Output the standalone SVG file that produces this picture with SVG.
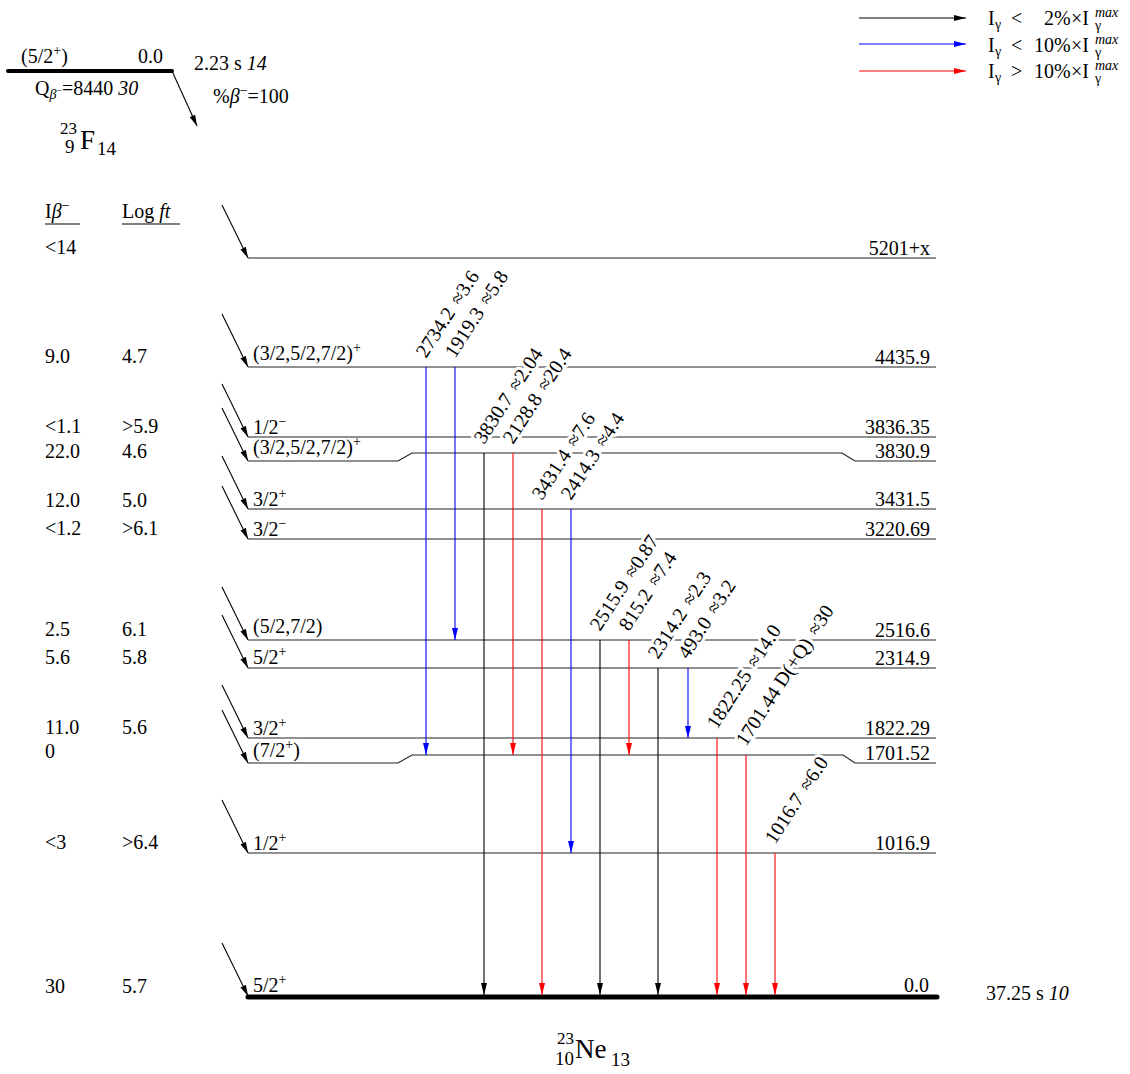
<svg xmlns="http://www.w3.org/2000/svg" width="1130" height="1074" viewBox="0 0 1130 1074">
<style>
text{font-family:"Liberation Serif","Times New Roman",serif;font-size:20px;fill:#000}
.e{text-anchor:end}
.i{font-style:italic}
.f10{font-size:10px}
.f14{font-size:14px}
.f17{font-size:17px}
.f19{font-size:19px}
.f27{font-size:27px}
.lv{fill:none;stroke:#222;stroke-width:1.2}
.gs{fill:none;stroke:#000;stroke-width:5;stroke-linecap:round}
.gl{paint-order:stroke;stroke:#fff;stroke-width:6;stroke-linejoin:round}
.tk{stroke:#000;stroke-width:1.1;fill:none}
.tb{stroke:#0000ff;stroke-width:1.1;fill:none}
.tr{stroke:#ff0000;stroke-width:1.1;fill:none}
.bt{stroke:#000;stroke-width:1.1;fill:none;marker-end:url(#mbeta)}
</style>
<defs>
<marker id="mk" markerUnits="userSpaceOnUse" markerWidth="12" markerHeight="6" refX="12" refY="3" orient="auto"><path d="M0,0 L12,3 L0,6 z" fill="#000"/></marker>
<marker id="mb" markerUnits="userSpaceOnUse" markerWidth="12" markerHeight="6" refX="12" refY="3" orient="auto"><path d="M0,0 L12,3 L0,6 z" fill="#0000ff"/></marker>
<marker id="mr" markerUnits="userSpaceOnUse" markerWidth="12" markerHeight="6" refX="12" refY="3" orient="auto"><path d="M0,0 L12,3 L0,6 z" fill="#ff0000"/></marker>
<marker id="mbeta" markerUnits="userSpaceOnUse" markerWidth="11" markerHeight="6" refX="11" refY="3" orient="auto"><path d="M0,0 L11,3 L0,6 z" fill="#000"/></marker>
</defs>

<g id="legend">
<line x1="859" y1="18" x2="966" y2="18" class="tk" marker-end="url(#mk)"/>
<line x1="859" y1="44" x2="966" y2="44" class="tb" marker-end="url(#mb)"/>
<line x1="859" y1="71" x2="966" y2="71" class="tr" marker-end="url(#mr)"/>
<text x="988" y="25">I</text><text x="995" y="29" class="f14">γ</text><text x="1011" y="25">&lt;</text><text x="1044" y="25">2%</text><text x="1071" y="25">×I</text><text x="1095" y="17" class="f14 i">max</text><text x="1095" y="30" class="f14">γ</text>
<text x="988" y="52">I</text><text x="995" y="56" class="f14">γ</text><text x="1011" y="52">&lt;</text><text x="1034" y="52">10%</text><text x="1071" y="52">×I</text><text x="1095" y="44" class="f14 i">max</text><text x="1095" y="57" class="f14">γ</text>
<text x="988" y="78">I</text><text x="995" y="82" class="f14">γ</text><text x="1011" y="78">&gt;</text><text x="1034" y="78">10%</text><text x="1071" y="78">×I</text><text x="1095" y="70" class="f14 i">max</text><text x="1095" y="83" class="f14">γ</text>
</g>

<g id="parent">
<line x1="8" y1="71" x2="172" y2="71" stroke="#000" stroke-width="4" stroke-linecap="round"/>
<text x="21" y="63">(5/2<tspan class="f14" dy="-8">+</tspan><tspan dy="8">)</tspan></text>
<text x="163" y="63" class="e">0.0</text>
<text x="35" y="95">Q<tspan class="f14 i" dy="4">β</tspan><tspan class="f10" dy="-5">−</tspan><tspan dy="1">=8440 </tspan><tspan class="i">30</tspan></text>
<text x="194" y="70">2.23 s <tspan class="i">14</tspan></text>
<text x="213" y="103">%<tspan class="i">β</tspan><tspan class="f14" dy="-8">−</tspan><tspan dy="8">=100</tspan></text>
<text x="60" y="134" class="f17">23</text>
<text x="65" y="153" class="f19">9</text>
<text x="80" y="149" class="f27">F</text>
<text x="97" y="155" class="f19">14</text>
</g>

<g id="headers">
<text x="45" y="218">I<tspan class="i">β</tspan><tspan class="f14" dy="-8">−</tspan></text>
<line x1="45" y1="224" x2="80" y2="224" stroke="#000" stroke-width="1"/>
<text x="122" y="218">Log <tspan class="i">ft</tspan></text>
<line x1="122" y1="224" x2="180" y2="224" stroke="#000" stroke-width="1"/>
</g>

<g id="level-5201">
<path class="lv" d="M248,258 H936"/>
<text x="930" y="255" class="e">5201+x</text>
<text x="45" y="254">&lt;14</text>
</g>
<g id="level-4435.9">
<path class="lv" d="M248,367 H936"/>
<text x="253" y="360">(3/2,5/2,7/2)<tspan class="f14" dy="-8">+</tspan></text>
<text x="930" y="364" class="e">4435.9</text>
<text x="45" y="363">9.0</text><text x="122" y="363">4.7</text>
</g>
<g id="level-3836.35">
<path class="lv" d="M248,437 H936"/>
<text x="253" y="434">1/2<tspan class="f14" dy="-8">−</tspan></text>
<text x="930" y="434" class="e">3836.35</text>
<text x="45" y="433">&lt;1.1</text><text x="122" y="433">&gt;5.9</text>
</g>
<g id="level-3830.9">
<path class="lv" d="M248,461 H398 L412,453 H842 L855,461 H936"/>
<text x="253" y="454">(3/2,5/2,7/2)<tspan class="f14" dy="-8">+</tspan></text>
<text x="930" y="458" class="e">3830.9</text>
<text x="45" y="458">22.0</text><text x="122" y="458">4.6</text>
</g>
<g id="level-3431.5">
<path class="lv" d="M248,509 H936"/>
<text x="253" y="506">3/2<tspan class="f14" dy="-8">+</tspan></text>
<text x="930" y="506" class="e">3431.5</text>
<text x="45" y="507">12.0</text><text x="122" y="507">5.0</text>
</g>
<g id="level-3220.69">
<path class="lv" d="M248,539 H936"/>
<text x="253" y="536">3/2<tspan class="f14" dy="-8">−</tspan></text>
<text x="930" y="536" class="e">3220.69</text>
<text x="45" y="535">&lt;1.2</text><text x="122" y="535">&gt;6.1</text>
</g>
<g id="level-2516.6">
<path class="lv" d="M248,640 H936"/>
<text x="253" y="633">(5/2,7/2)</text>
<text x="930" y="637" class="e">2516.6</text>
<text x="45" y="636">2.5</text><text x="122" y="636">6.1</text>
</g>
<g id="level-2314.9">
<path class="lv" d="M248,668 H936"/>
<text x="253" y="664">5/2<tspan class="f14" dy="-8">+</tspan></text>
<text x="930" y="665" class="e">2314.9</text>
<text x="45" y="664">5.6</text><text x="122" y="664">5.8</text>
</g>
<g id="level-1822.29">
<path class="lv" d="M248,738 H936"/>
<text x="253" y="735">3/2<tspan class="f14" dy="-8">+</tspan></text>
<text x="930" y="735" class="e">1822.29</text>
<text x="45" y="734">11.0</text><text x="122" y="734">5.6</text>
</g>
<g id="level-1701.52">
<path class="lv" d="M248,763 H398 L412,755 H843 L855,763 H936"/>
<text x="253" y="757">(7/2<tspan class="f14" dy="-8">+</tspan><tspan dy="8">)</tspan></text>
<text x="930" y="760" class="e">1701.52</text>
<text x="45" y="758">0</text>
</g>
<g id="level-1016.9">
<path class="lv" d="M248,853 H936"/>
<text x="253" y="850">1/2<tspan class="f14" dy="-8">+</tspan></text>
<text x="930" y="850" class="e">1016.9</text>
<text x="45" y="849">&lt;3</text><text x="122" y="849">&gt;6.4</text>
</g>
<g id="level-0">
<path class="gs" d="M248,997 H937"/>
<text x="253" y="992">5/2<tspan class="f14" dy="-8">+</tspan></text>
<text x="929" y="992" class="e">0.0</text>
<text x="45" y="993">30</text><text x="122" y="993">5.7</text>
<text x="986" y="1000">37.25 s <tspan class="i">10</tspan></text>
</g>

<g id="nucleus">
<text x="557" y="1044" class="f17">23</text>
<text x="555" y="1065" class="f19">10</text>
<text x="575" y="1058" class="f27">Ne</text>
<text x="611" y="1066" class="f19">13</text>
</g>

<g id="gamma-labels">
<text class="gl" transform="translate(426,359) rotate(-57)">2734.2 <tspan dx="3">≈3.6</tspan></text>
<text class="gl" transform="translate(455,359) rotate(-57)">1919.3 <tspan dx="3">≈5.8</tspan></text>
<text class="gl" transform="translate(484,445) rotate(-57)">3830.7 <tspan dx="3">≈2.04</tspan></text>
<text class="gl" transform="translate(513,445) rotate(-57)">2128.8 <tspan dx="3">≈20.4</tspan></text>
<text class="gl" transform="translate(542,501) rotate(-57)">3431.4 <tspan dx="3">≈7.6</tspan></text>
<text class="gl" transform="translate(571,501) rotate(-57)">2414.3 <tspan dx="3">≈4.4</tspan></text>
<text class="gl" transform="translate(600,632) rotate(-57)">2515.9 <tspan dx="3">≈0.87</tspan></text>
<text class="gl" transform="translate(629,632) rotate(-57)">815.2 <tspan dx="3">≈7.4</tspan></text>
<text class="gl" transform="translate(658,660) rotate(-57)">2314.2 <tspan dx="3">≈2.3</tspan></text>
<text class="gl" transform="translate(688,660) rotate(-57)">493.0 <tspan dx="3">≈3.2</tspan></text>
<text class="gl" transform="translate(717,730) rotate(-57)">1822.25 <tspan dx="3">≈14.0</tspan></text>
<text class="gl" transform="translate(746,747) rotate(-57)">1701.44 D(+Q) <tspan dx="3">≈30</tspan></text>
<text class="gl" transform="translate(775,845) rotate(-57)">1016.7 <tspan dx="3">≈6.0</tspan></text>
</g>

<g id="connectors">
<line x1="426" y1="367" x2="426" y2="755" class="tb" marker-end="url(#mb)"/>
<line x1="455" y1="367" x2="455" y2="640" class="tb" marker-end="url(#mb)"/>
<line x1="484" y1="453" x2="484" y2="995" class="tk" marker-end="url(#mk)"/>
<line x1="513" y1="453" x2="513" y2="755" class="tr" marker-end="url(#mr)"/>
<line x1="542" y1="509" x2="542" y2="995" class="tr" marker-end="url(#mr)"/>
<line x1="571" y1="509" x2="571" y2="853" class="tb" marker-end="url(#mb)"/>
<line x1="600" y1="640" x2="600" y2="995" class="tk" marker-end="url(#mk)"/>
<line x1="629" y1="640" x2="629" y2="755" class="tr" marker-end="url(#mr)"/>
<line x1="658" y1="668" x2="658" y2="995" class="tk" marker-end="url(#mk)"/>
<line x1="688" y1="668" x2="688" y2="738" class="tb" marker-end="url(#mb)"/>
<line x1="717" y1="738" x2="717" y2="995" class="tr" marker-end="url(#mr)"/>
<line x1="746" y1="755" x2="746" y2="995" class="tr" marker-end="url(#mr)"/>
<line x1="775" y1="853" x2="775" y2="995" class="tr" marker-end="url(#mr)"/>
<line x1="172" y1="71" x2="197" y2="126" class="bt"/>
<line x1="222" y1="205" x2="248" y2="258" class="bt"/>
<line x1="222" y1="314" x2="248" y2="367" class="bt"/>
<line x1="222" y1="384" x2="248" y2="437" class="bt"/>
<line x1="222" y1="408" x2="248" y2="461" class="bt"/>
<line x1="222" y1="456" x2="248" y2="509" class="bt"/>
<line x1="222" y1="486" x2="248" y2="539" class="bt"/>
<line x1="222" y1="587" x2="248" y2="640" class="bt"/>
<line x1="222" y1="615" x2="248" y2="668" class="bt"/>
<line x1="222" y1="685" x2="248" y2="738" class="bt"/>
<line x1="222" y1="710" x2="248" y2="763" class="bt"/>
<line x1="222" y1="800" x2="248" y2="853" class="bt"/>
<line x1="222" y1="943" x2="248" y2="996" class="bt"/>
</g>
</svg>
